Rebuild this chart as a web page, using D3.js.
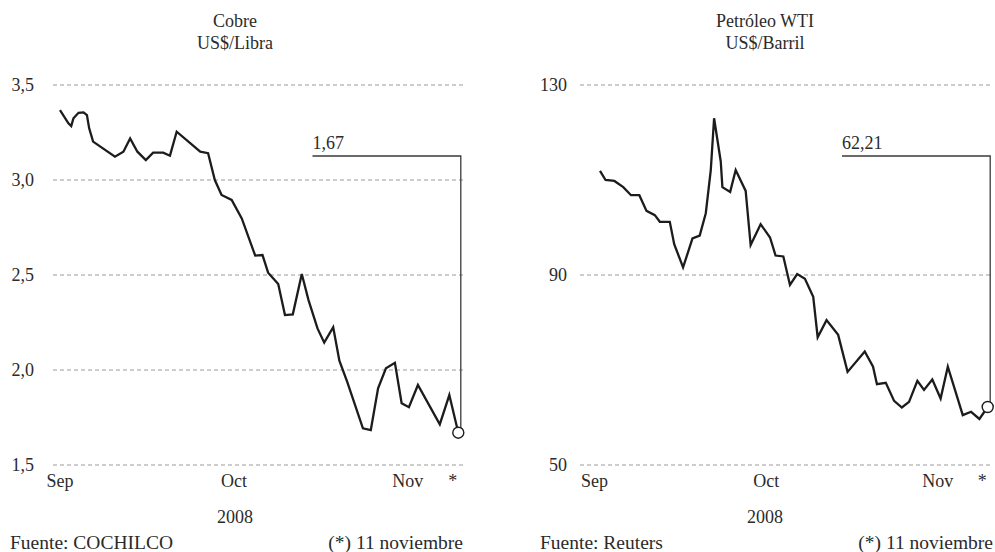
<!DOCTYPE html>
<html>
<head>
<meta charset="utf-8">
<script src="https://cdn.jsdelivr.net/npm/d3@7"></script>
<style>
  html, body { margin: 0; padding: 0; background: #fff; }
  svg { display: block; font-family: "Liberation Serif", "DejaVu Serif", serif; }
</style>
</head>
<body>
<div id="chart"></div>
<script>
// days counted from 1 Sep 2008
const cobreDays = [0, 1.5, 2, 2.4, 3.3, 4.2, 4.8, 5.2, 5.9, 9.8, 11.3, 12.5, 13.8, 15.3, 16.6, 18.4, 19.6, 20.8,
  25, 26.4, 27.6, 28.8, 30.6, 32.4, 34.8, 36.1, 37.1, 38.9, 40.1, 41.5, 43.1, 44.3, 45.9, 47.1, 48.7, 49.8,
  51.2, 54.0, 55.4, 56.7, 58.1, 59.7, 60.9, 62.2, 63.8, 67.7, 69.4, 71];
const cobreValues = [3.368, 3.298, 3.284, 3.325, 3.354, 3.356, 3.342, 3.272, 3.202, 3.123, 3.149, 3.219, 3.149,
  3.105, 3.144, 3.144, 3.128, 3.254, 3.149, 3.141, 3.0, 2.921, 2.895, 2.798, 2.602, 2.605, 2.512, 2.453, 2.289,
  2.293, 2.505, 2.368, 2.219, 2.144, 2.225, 2.049, 1.938, 1.693, 1.684, 1.904, 2.009, 2.038, 1.825, 1.804,
  1.921, 1.714, 1.868, 1.67];

const wtiDays = [1.0, 2.0, 3.6, 5.2, 6.6, 8.1, 9.4, 10.9, 11.8, 13.6, 14.4, 16.0, 17.7, 19.0, 20.1, 21.0, 21.6,
  22.8, 23.1, 24.5, 25.5, 27.3, 28.2, 30.0, 31.7, 32.7, 34.1, 35.3, 36.6, 38.0, 39.5, 40.3, 41.9, 44.0, 45.7,
  48.8, 50.3, 51.0, 52.6, 54.1, 55.5, 56.8, 58.3, 59.5, 61.0, 62.5, 63.8, 66.5, 68.0, 69.5, 71];
const wtiValues = [111.9, 110.0, 109.8, 108.5, 106.8, 106.8, 103.5, 102.6, 101.2, 101.2, 96.5, 91.6, 97.7, 98.3,
  103.0, 112.1, 123.0, 113.9, 108.5, 107.5, 112.1, 107.7, 96.3, 100.7, 97.9, 94.1, 93.9, 87.9, 90.2, 89.2,
  85.4, 76.9, 80.5, 77.4, 69.6, 73.9, 70.7, 67.0, 67.3, 63.5, 62.1, 63.3, 67.7, 65.8, 68.0, 64.0, 70.7,
  60.5, 61.2, 59.7, 62.21];

const cobreTicks = [1.5, 2.0, 2.5, 3.0, 3.5];
const wtiTicks = [50, 90, 130];
const monthTickDays = [0, 31, 62, 70];
const monthTickLabels = ["Sep", "Oct", "Nov", "*"];

(() => {
  const W = 995, H = 552;
  const fmtComma = (f) => (v) => d3.format(f)(v).replace(".", ",");
  const ink = "#2b2b2b";

  const svg = d3.select("#chart").append("svg")
    .attr("width", W).attr("height", H)
    .attr("viewBox", `0 0 ${W} ${H}`);

  function drawPanel(o) {
    const g = svg.append("g");
    const x = d3.scaleLinear().domain(o.dayDomain).range(o.xRange);
    const y = d3.scaleLinear().domain(o.yDomain).range([465, 85]);

    // titles
    g.append("text").attr("x", o.center).attr("y", 27).attr("text-anchor", "middle")
      .attr("fill", ink).style("font-size", "18px").text(o.title);
    g.append("text").attr("x", o.center).attr("y", 49).attr("text-anchor", "middle")
      .attr("fill", ink).style("font-size", "18px").text(o.unit);

    // dashed grid + y labels
    const gy = g.append("g").attr("class", "grid");
    gy.selectAll("line").data(o.yTicks).join("line")
      .attr("x1", o.gridX[0]).attr("x2", o.gridX[1])
      .attr("y1", d => y(d)).attr("y2", d => y(d))
      .attr("stroke", "#9a9a9a").attr("stroke-width", 1)
      .attr("stroke-dasharray", "4,3");
    gy.selectAll("text").data(o.yTicks).join("text")
      .attr("x", o.labelX).attr("y", d => y(d) + 6)
      .attr("text-anchor", "end").attr("fill", ink)
      .style("font-size", "18px")
      .text(o.yFormat);

    // month labels
    g.append("g").selectAll("text").data(monthTickDays).join("text")
      .attr("x", d => x(d)).attr("y", 487).attr("text-anchor", "middle")
      .attr("fill", ink).style("font-size", "18px")
      .text((d, i) => monthTickLabels[i]);
    g.append("text").attr("x", o.center).attr("y", 523).attr("text-anchor", "middle")
      .attr("fill", ink).style("font-size", "18px").text("2008");

    // footer (set a touch larger, the original face runs wide here)
    g.append("text").attr("x", o.footX[0]).attr("y", 549)
      .attr("fill", ink).style("font-size", "19.5px").text(o.source);
    g.append("text").attr("x", o.footX[1]).attr("y", 549).attr("text-anchor", "end")
      .attr("fill", ink).style("font-size", "19.5px").text("(*) 11 noviembre");

    // series
    const pts = o.days.map((d, i) => [d, o.values[i]]);
    const line = d3.line().x(d => x(d[0])).y(d => y(d[1]));

    const last = pts[pts.length - 1];
    const lx = x(last[0]) + 2.5;

    // callout
    g.append("path")
      .attr("d", `M${o.calloutX},156H${lx}V${y(last[1])}`)
      .attr("fill", "none").attr("stroke", "#3a3a3a").attr("stroke-width", 1.3);
    g.append("text").attr("x", o.calloutX).attr("y", 149)
      .attr("fill", ink).style("font-size", "18px")
      .text(o.yFormatLast(last[1]));

    g.append("path").datum(pts)
      .attr("d", line)
      .attr("fill", "none").attr("stroke", "#1c1c1c")
      .attr("stroke-width", 2.3).attr("stroke-linejoin", "miter");

    g.append("circle")
      .attr("cx", x(last[0])).attr("cy", y(last[1])).attr("r", 5.5)
      .attr("fill", "#fff").attr("stroke", "#1c1c1c").attr("stroke-width", 1.4);
  }

  drawPanel({
    title: "Cobre", unit: "US$/Libra", source: "Fuente: COCHILCO",
    days: cobreDays, values: cobreValues,
    dayDomain: [0, 71], xRange: [60, 458.3],
    yDomain: [1.5, 3.5], yTicks: cobreTicks,
    yFormat: fmtComma(".1f"), yFormatLast: fmtComma(".2f"),
    gridX: [53, 463], labelX: 34, center: 235,
    footX: [10, 463], calloutX: 312.5
  });

  drawPanel({
    title: "Petróleo WTI", unit: "US$/Barril", source: "Fuente: Reuters",
    days: wtiDays, values: wtiValues,
    dayDomain: [1, 71], xRange: [600, 987.7],
    yDomain: [50, 130], yTicks: wtiTicks,
    yFormat: fmtComma("d"), yFormatLast: fmtComma(".2f"),
    gridX: [580, 993], labelX: 567, center: 765,
    footX: [540, 993], calloutX: 842
  });
})();
</script>
</body>
</html>
